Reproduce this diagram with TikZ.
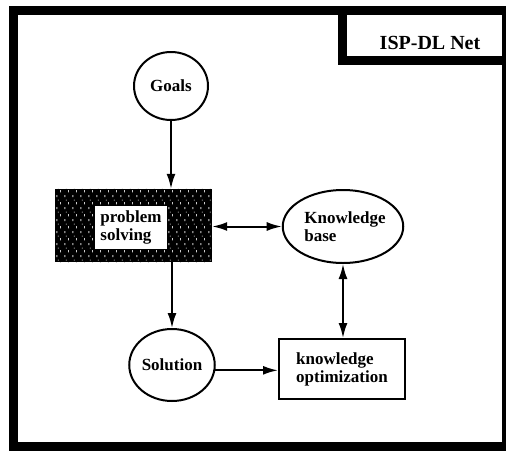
\documentclass[tikz,border=0pt]{standalone}
\usepackage{fontspec}
\setmainfont{Liberation Serif}
\usetikzlibrary{arrows.meta,shapes.geometric,patterns.meta}

% sparse white specks on the dark "problem solving" block
\tikzdeclarepattern{
  name=speckle,
  type=uncolored,
  bounding box={(0pt,0pt) and (8pt,12pt)},
  tile size={(8pt,12pt)},
  code={
    \pgfsetlinewidth{0.9pt}
    \pgfpathmoveto{\pgfpoint{1pt}{1pt}}\pgfpathlineto{\pgfpoint{1pt}{3pt}}
    \pgfpathmoveto{\pgfpoint{5pt}{6pt}}\pgfpathlineto{\pgfpoint{5pt}{8.5pt}}
    \pgfpathmoveto{\pgfpoint{2.5pt}{10pt}}\pgfpathlineto{\pgfpoint{2.5pt}{11pt}}
    \pgfusepath{stroke}
  }
}

\tikzset{
  lbl/.style={font=\fontsize{17}{18}\selectfont\bfseries, align=left},
  bubble/.style={draw, ellipse, line width=2pt, inner sep=0pt, lbl},
  plainbox/.style={draw, rectangle, line width=2pt, inner sep=0pt, lbl},
  arr/.style={line width=2pt, -{Latex[length=15pt,width=9pt]}},
  darr/.style={line width=2pt, {Latex[length=15pt,width=9pt]}-{Latex[length=15pt,width=9pt]}},
  frame/.style={line width=9pt},
}

\begin{document}
\begin{tikzpicture}[x=1pt,y=-1pt]
  \useasboundingbox (0,0) rectangle (506,450);

  % outer frame and title tab
  \draw[frame] (13.5,10) rectangle (506,446);
  \draw[frame] (342,10) rectangle (506,60);
  \node[font=\fontsize{20}{20}\selectfont\bfseries] (title) at (430,43) {ISP-DL Net};

  % nodes
  \node[bubble, minimum width=74pt, minimum height=68pt] (goals) at (171,86) {Goals};

  \node[rectangle, fill=black, minimum width=157pt, minimum height=73pt, inner sep=0pt] (ps) at (133.5,225.5) {};
  \fill[pattern=speckle, pattern color=white!80!black] (ps.south west) rectangle (ps.north east);
  \node[rectangle, fill=white, minimum width=72pt, minimum height=43pt, inner sep=0pt, lbl] (psin) at (131,227.5) {problem\\solving};

  \node[bubble, minimum width=114pt, minimum height=73pt] (kb) at (343,226.5) {\hspace*{4pt}Knowledge\\\hspace*{4pt}base};

  \node[bubble, minimum width=78pt, minimum height=72pt] (sol) at (172,365) {Solution};

  \node[plainbox, minimum width=126pt, minimum height=60pt] (ko) at (342,369) {knowledge\\optimization};

  % connectors
  \draw[arr] (goals.south) -- (goals.south |- ps.north);
  \draw[arr] (ps.south -| sol.north) -- (sol.north);
  \draw[darr] (ps.east |- kb.west) -- (kb.west);
  \draw[darr] (kb.south) -- (kb.south |- ko.north);
  \draw[arr] (sol.-7) -- (sol.-7 -| ko.west);
\end{tikzpicture}
\end{document}
